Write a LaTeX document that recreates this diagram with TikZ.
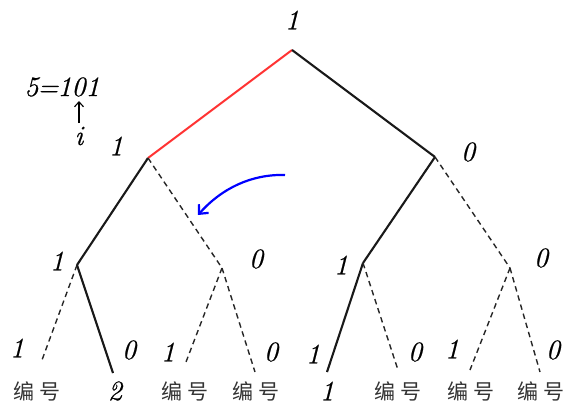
\documentclass[tikz,border=0pt]{standalone}
\usepackage{fontspec}
\newfontfamily\cjk{Noto Sans CJK SC}
\newfontfamily\labfont{Latin Modern Roman}[FakeBold=0.7]
\usetikzlibrary{arrows.meta}
\begin{document}
\begin{tikzpicture}[x=1pt,y=-1pt,
  solidedge/.style={line width=2.1pt,black!90},
  dashedge/.style={line width=1.4pt,black!85,dash pattern=on 5.5pt off 4pt},
  rededge/.style={line width=2pt,red!80!white},
  lab/.style={font=\labfont\fontsize{28}{32}\selectfont\itshape,inner sep=0pt},
  cjklab/.style={font=\cjk\fontsize{21}{24}\selectfont,inner sep=0pt,text=black!80}]
\useasboundingbox (0,0) rectangle (564,409);
% tree points
\coordinate (r) at (292,50);
\coordinate (a) at (148,158);
\coordinate (b) at (435,157);
\coordinate (aa) at (77,265);
\coordinate (ab) at (222,268);
\coordinate (ba) at (363,263);
\coordinate (bb) at (510,268);
\coordinate (l1) at (42,360);
\coordinate (l2) at (113,373);
\coordinate (l3) at (186,362);
\coordinate (l4) at (255,372);
\coordinate (l5) at (327,372);
\coordinate (l6) at (398,370);
\coordinate (l7) at (470,370);
\coordinate (l8) at (540,372);
% edges
\draw[rededge] (r) -- (a);
\draw[solidedge] (r) -- (b);
\draw[solidedge] (a) -- (aa);
\draw[dashedge] (a) -- (ab);
\draw[solidedge] (b) -- (ba);
\draw[dashedge] (b) -- (bb);
\draw[dashedge] (aa) -- (l1);
\draw[solidedge] (aa) -- (l2);
\draw[dashedge] (ab) -- (l3);
\draw[dashedge] (ab) -- (l4);
\draw[solidedge] (ba) -- (l5);
\draw[dashedge] (ba) -- (l6);
\draw[dashedge] (bb) -- (l7);
\draw[dashedge] (bb) -- (l8);
% edge labels
\node[lab] (tr) at (292,20) {1};
\node[lab] (ta) at (116,146) {1};
\node[lab] (tb) at (468,152) {0};
\node[lab] (taa) at (57,261) {1};
\node[lab] (tab) at (256,259) {0};
\node[lab] (tba) at (341,265) {1};
\node[lab] (tbb) at (541,258) {0};
\node[lab] (t1) at (17,348) {1};
\node[lab] (t2) at (129,350) {0};
\node[lab] (t3) at (168,352) {1};
\node[lab] (t4) at (271,352) {0};
\node[lab] (t5) at (313,354) {1};
\node[lab] (t6) at (415,352) {0};
\node[lab] (t7) at (452,349) {1};
\node[lab] (t8) at (553,350) {0};
% bottom labels
\node[cjklab] (b1) at (37,391) {编\hspace{5pt}号};
\node[lab] (b2) at (115,391) {2};
\node[cjklab] (b3) at (185,391) {编\hspace{5pt}号};
\node[cjklab] (b4) at (256,391) {编\hspace{5pt}号};
\node[lab] (b5) at (327,391) {1};
\node[cjklab] (b6) at (398,391) {编\hspace{5pt}号};
\node[cjklab] (b7) at (471,391) {编\hspace{5pt}号};
\node[cjklab] (b8) at (541,391) {编\hspace{5pt}号};
% top-left annotation
\node[lab] (num) at (62,87) {5\kern-1pt=\kern-1pt101};
\coordinate (upt) at (79,101);
\coordinate (ubot) at (79,123);
\node[lab] (iv) at (79,136) {i};
\draw[line width=1.1pt,-{Straight Barb[length=5pt,width=9pt]}] (ubot) -- (upt);
% blue arrow
\coordinate (bs) at (285,175);
\coordinate (be) at (198,215);
\draw[line width=2.2pt,blue,-{Straight Barb[length=7pt,width=13pt]}] (bs) .. controls (252,174) and (222,188) .. (be);
\end{tikzpicture}
\end{document}
